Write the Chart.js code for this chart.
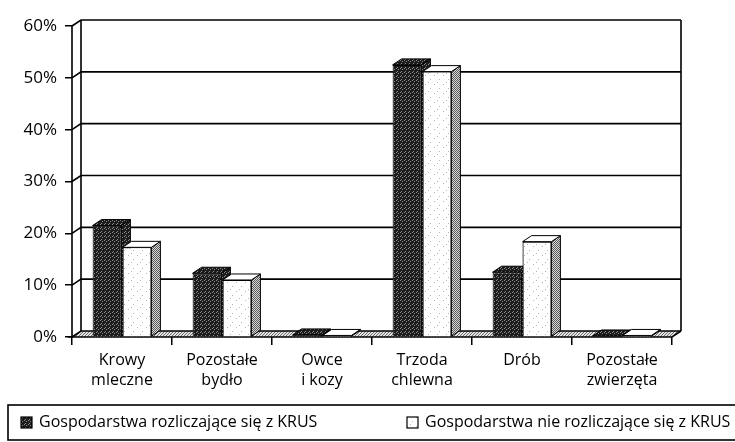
<!DOCTYPE html>
<html>
<head>
<meta charset="utf-8">
<script src="https://cdn.jsdelivr.net/npm/chart.js@4.4.1/dist/chart.umd.min.js"></script>
<style>
  html, body { margin: 0; padding: 0; background: #fff; }
</style>
</head>
<body>
<canvas id="wykres" width="735" height="442"></canvas>
<script>
// dane (udział w %)
const kategorie = [["Krowy", "mleczne"], ["Pozostałe", "bydło"], ["Owce", "i kozy"], ["Trzoda", "chlewna"], ["Drób"], ["Pozostałe", "zwierzęta"]];
const zKrus = [21.5, 12.3, 0.4, 52.5, 12.5, 0.2];
const bezKrus = [17.3, 11.0, 0.3, 51.2, 18.4, 0.3];
const nazwySerii = ["Gospodarstwa rozliczające się z KRUS", "Gospodarstwa nie rozliczające się z KRUS"];

const dx = 9;  // głębokość 3D w poziomie
const dy = -6; // głębokość 3D w pionie

const ctx = document.getElementById('wykres').getContext('2d');
const czcionka = "'Open Sans', 'DejaVu Sans', sans-serif";

// wzory "kropkowane" jak na skanie
function wzor(tlo, kropka, rozmiar, punkty) {
    const c = document.createElement('canvas');
    c.width = rozmiar; c.height = rozmiar;
    const g = c.getContext('2d');
    g.fillStyle = tlo;
    g.fillRect(0, 0, rozmiar, rozmiar);
    g.fillStyle = kropka;
    punkty.forEach(p => g.fillRect(p[0], p[1], 1, 1));
    return ctx.createPattern(c, 'repeat');
}
const ciemny = wzor('#1c1c1c', '#8c8c8c', 4, [[0, 0], [2, 1], [1, 3]]);
const jasny = wzor('#ffffff', '#b5b5b5', 9, [[2, 3], [7, 7], [5, 1]]);
const szaryBok = wzor('#d8d8d8', '#5a5a5a', 2, [[0, 0], [1, 1]]);
const podloga = wzor('#e4e4e4', '#6a6a6a', 3, [[0, 0], [2, 1], [1, 2]]);

function sciezka(c, pkt) {
    c.beginPath();
    c.moveTo(pkt[0][0], pkt[0][1]);
    for (let i = 1; i < pkt.length; i++) c.lineTo(pkt[i][0], pkt[i][1]);
    c.closePath();
}

// boki i wierzch słupka
function scianki(c, el, bok, gora) {
    const l = el.x - el.width / 2, r = el.x + el.width / 2, t = el.y, b = el.base;
    c.strokeStyle = '#000';
    c.lineWidth = 1;
    sciezka(c, [[r, t], [r + dx, t + dy], [r + dx, b + dy], [r, b]]);
    c.fillStyle = bok; c.fill(); c.stroke();
    sciezka(c, [[l, t], [l + dx, t + dy], [r + dx, t + dy], [r, t]]);
    c.fillStyle = gora; c.fill(); c.stroke();
}

const rama3d = {
    id: 'rama3d',
    beforeDatasetsDraw(chart) {
        const c = chart.ctx, a = chart.chartArea, y = chart.scales.y;
        c.save();
        // podłoga
        sciezka(c, [[a.left, a.bottom], [a.right, a.bottom], [a.right + dx, a.bottom + dy], [a.left + dx, a.bottom + dy]]);
        c.fillStyle = podloga;
        c.fill();
        c.strokeStyle = '#000';
        c.lineWidth = 1.6;
        // linie siatki na ścianie bocznej i tylnej
        y.ticks.forEach(t => {
            const py = y.getPixelForValue(t.value);
            c.beginPath();
            c.moveTo(a.left, py);
            c.lineTo(a.left + dx, py + dy);
            c.lineTo(a.right + dx, py + dy);
            c.stroke();
        });
        c.beginPath();
        c.moveTo(a.left, a.top); c.lineTo(a.left, a.bottom);                       // przednia krawędź
        c.moveTo(a.left + dx, a.top + dy); c.lineTo(a.left + dx, a.bottom + dy);   // tylna krawędź lewej ściany
        c.moveTo(a.right + dx, a.top + dy); c.lineTo(a.right + dx, a.bottom + dy); // prawa krawędź
        c.moveTo(a.left - 4, a.bottom); c.lineTo(a.right, a.bottom);               // oś 0%
        c.lineTo(a.right + dx, a.bottom + dy);
        c.stroke();
        c.restore();
    },
    afterDatasetsDraw(chart) {
        const c = chart.ctx;
        c.save();
        chart.getDatasetMeta(0).data.forEach(el => scianki(c, el, ciemny, ciemny));
        // jasne słupki muszą zasłonić bok ciemnych
        chart.getDatasetMeta(1).data.forEach(el => {
            el.draw(c);
            scianki(c, el, szaryBok, '#ffffff');
        });
        c.restore();
    },
    afterDraw(chart) {
        // legenda w ramce, jak w oryginale
        const c = chart.ctx;
        const ds = chart.data.datasets;
        const xKw = [21, 407];
        c.save();
        c.strokeStyle = '#000';
        c.lineWidth = 1.6;
        c.strokeRect(8, 405, 760, 35);
        c.font = '16px ' + czcionka;
        c.textBaseline = 'middle';
        ds.forEach((d, i) => {
            c.fillStyle = d.backgroundColor;
            c.fillRect(xKw[i], 417, 11, 11);
            c.lineWidth = 1.2;
            c.strokeRect(xKw[i], 417, 11, 11);
            c.fillStyle = '#000';
            c.fillText(d.label, xKw[i] + 18, 422);
        });
        c.restore();
    }
};

new Chart(ctx, {
    type: 'bar',
    data: {
        labels: kategorie,
        datasets: [{
            label: nazwySerii[0],
            data: zKrus,
            backgroundColor: ciemny,
            borderColor: '#000',
            borderWidth: 1
        }, {
            label: nazwySerii[1],
            data: bezKrus,
            backgroundColor: jasny,
            borderColor: '#000',
            borderWidth: 1
        }]
    },
    options: {
        responsive: false,
        animation: false,
        categoryPercentage: 0.6,
        barPercentage: 0.96,
        layout: { padding: { top: 26, right: 63, bottom: 52, left: 0 } },
        plugins: {
            tooltip: { enabled: false },
            legend: { display: false }
        },
        scales: {
            x: {
                border: { display: false },
                grid: { drawOnChartArea: false, drawTicks: true, tickLength: 8, color: '#000', lineWidth: 1.5 },
                ticks: {
                    color: '#000',
                    maxRotation: 0,
                    padding: 5,
                    font: { family: czcionka, size: 16, lineHeight: 1.25 }
                },
                afterFit(s) { s.height = 53; }
            },
            y: {
                min: 0,
                max: 60,
                border: { display: false },
                grid: { drawOnChartArea: false, drawTicks: true, tickLength: 7, color: '#000', lineWidth: 1.5 },
                ticks: {
                    stepSize: 10,
                    color: '#000',
                    padding: 8,
                    font: { family: czcionka, size: 17 },
                    callback: v => v + '%'
                },
                afterFit(s) { s.width = 72; }
            }
        }
    },
    plugins: [rama3d]
});
</script>
</body>
</html>
